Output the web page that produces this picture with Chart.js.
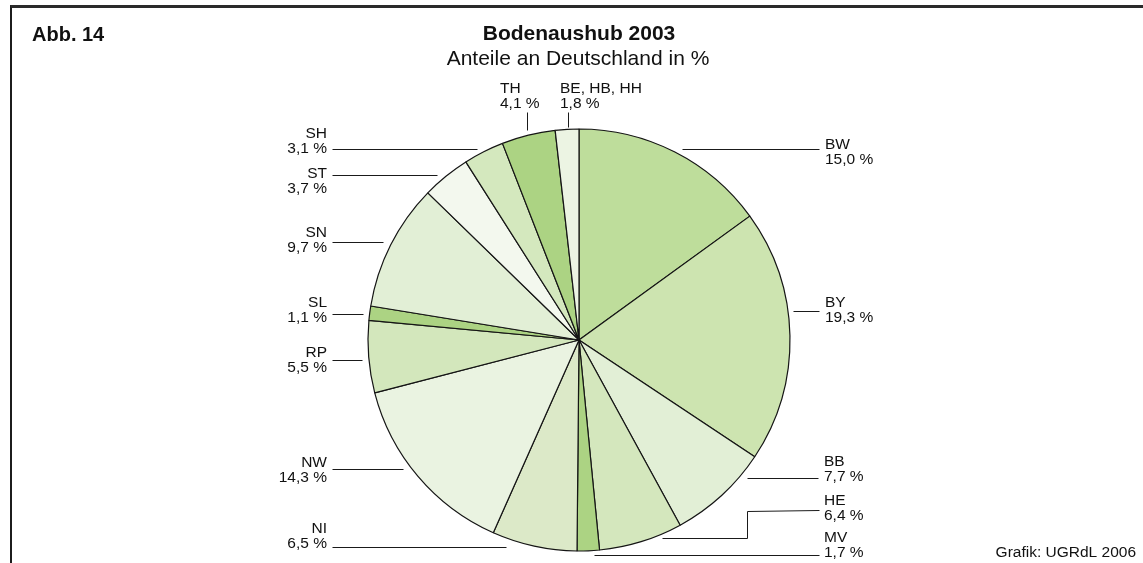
<!DOCTYPE html>
<html lang="de">
<head>
<meta charset="utf-8">
<title>Bodenaushub 2003</title>
<script src="https://cdn.jsdelivr.net/npm/chart.js@4.4.1/dist/chart.umd.min.js"></script>
<style>
    html, body { margin: 0; padding: 0; background: #fff; }
    #wrap { position: relative; width: 1143px; height: 563px; overflow: hidden; }
    #frame {
        position: absolute; left: 10px; top: 5px; right: -10px; bottom: -10px;
        border-left: 2px solid #1c1c1c; border-top: 3px solid #2a2a2a;
        pointer-events: none;
    }
</style>
</head>
<body>
<div id="wrap">
    <canvas id="chart" width="1143" height="563"></canvas>
    <div id="frame"></div>
</div>
<script>
// Data: shares of Germany in %, clockwise from 12 o'clock
const states = ['BW', 'BY', 'BB', 'HE', 'MV', 'NI', 'NW', 'RP', 'SL', 'SN', 'ST', 'SH', 'TH', 'BE, HB, HH'];
const shares = [15.0, 19.3, 7.7, 6.4, 1.7, 6.5, 14.3, 5.5, 1.1, 9.7, 3.7, 3.1, 4.1, 1.8];

const sliceColors = [
    '#bedd9b', '#cde4b0', '#e2efd6', '#d4e7bd', '#acd383', '#dce9c8', '#eaf3e1',
    '#d3e7bc', '#acd383', '#e2efd6', '#f3f8ee', '#d4e8be', '#acd383', '#ecf4e3'
];

const FONT = '"Liberation Sans", Arial, Helvetica, sans-serif';

// Label placement: text anchor (first baseline) and leader polyline
const labelLayout = {
    'BW':         { align: 'left',  x: 825, y: 149, leader: [[682, 149], [819, 149]] },
    'BY':         { align: 'left',  x: 825, y: 307, leader: [[793, 311], [819, 311]] },
    'BB':         { align: 'left',  x: 824, y: 466, leader: [[747, 478], [818, 478]] },
    'HE':         { align: 'left',  x: 824, y: 505, leader: [[662, 538], [747, 538], [747, 511], [819, 510]] },
    'MV':         { align: 'left',  x: 824, y: 542, leader: [[594, 555], [819, 555]] },
    'NI':         { align: 'right', x: 327, y: 533, leader: [[332, 547], [506, 547]] },
    'NW':         { align: 'right', x: 327, y: 467, leader: [[332, 469], [403, 469]] },
    'RP':         { align: 'right', x: 327, y: 357, leader: [[332, 360], [362, 360]] },
    'SL':         { align: 'right', x: 327, y: 307, leader: [[332, 314], [363, 314]] },
    'SN':         { align: 'right', x: 327, y: 237, leader: [[332, 242], [383, 242]] },
    'ST':         { align: 'right', x: 327, y: 178, leader: [[332, 175], [437, 175]] },
    'SH':         { align: 'right', x: 327, y: 138, leader: [[332, 149], [477, 149]] },
    'TH':         { align: 'left',  x: 500, y: 93,  leader: [[527, 112], [527, 130]] },
    'BE, HB, HH': { align: 'left',  x: 560, y: 93,  leader: [[568, 112], [568, 127]] }
};

const fmtPct = v => v.toFixed(1).replace('.', ',') + ' %';

const annotations = {
    id: 'annotations',
    afterDraw(chart) {
        const ctx = chart.ctx;
        ctx.save();
        ctx.fillStyle = '#111';
        ctx.textBaseline = 'alphabetic';

        // header
        ctx.font = `bold 20px ${FONT}`;
        ctx.textAlign = 'left';
        ctx.fillText('Abb. 14', 32, 41);
        ctx.font = `bold 21px ${FONT}`;
        ctx.textAlign = 'center';
        ctx.fillText('Bodenaushub 2003', 579, 40);
        ctx.font = `21px ${FONT}`;
        ctx.fillText('Anteile an Deutschland in %', 578, 65);

        ctx.font = `15.5px ${FONT}`;
        ctx.textAlign = 'right';
        ctx.fillText('Grafik: UGRdL 2006', 1136, 557);

        // slice labels and leaders
        ctx.strokeStyle = '#1a1a1a';
        ctx.lineWidth = 1;
        states.forEach((name, i) => {
            const lay = labelLayout[name];
            if (!lay) return;
            ctx.textAlign = lay.align;
            ctx.fillText(name, lay.x, lay.y);
            ctx.fillText(fmtPct(shares[i]), lay.x, lay.y + 15);

            ctx.beginPath();
            lay.leader.forEach(([px, py], k) => {
                const sx = Math.round(px) + 0.5;
                const sy = Math.round(py) + 0.5;
                if (k === 0) ctx.moveTo(sx, sy); else ctx.lineTo(sx, sy);
            });
            ctx.stroke();
        });
        ctx.restore();
    }
};

new Chart(document.getElementById('chart'), {
    type: 'pie',
    data: {
        labels: states,
        datasets: [{
            data: shares,
            backgroundColor: sliceColors,
            borderColor: '#151515',
            borderWidth: 1.2,
            hoverOffset: 0
        }]
    },
    options: {
        responsive: false,
        animation: false,
        events: [],
        radius: 211,
        layout: { padding: { left: 140, right: 125, top: 120, bottom: 3 } },
        plugins: {
            legend: { display: false },
            tooltip: { enabled: false },
            title: { display: false }
        }
    },
    plugins: [annotations]
});
</script>
</body>
</html>
